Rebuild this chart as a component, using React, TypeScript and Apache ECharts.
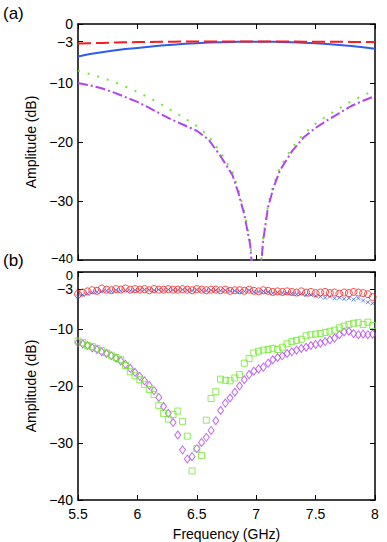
import React, { useEffect, useRef } from "react";
import * as echarts from "echarts";

// ---- Panel (a): theory curves ----
const freqA = [5.5, 5.6, 5.7, 5.8, 5.9, 6.0, 6.1, 6.2, 6.3, 6.4, 6.5, 6.6, 6.7, 6.8, 6.85, 6.9, 6.95, 7.0, 7.06, 7.1, 7.15, 7.2, 7.3, 7.4, 7.5, 7.6, 7.7, 7.8, 7.9, 8.0];
const redA = [-3.3, -3.25, -3.2, -3.15, -3.1, -3.07, -3.04, -3.02, -3.0, -2.98, -2.97, -2.96, -2.95, -2.95, -2.95, -2.95, -2.95, -2.95, -2.95, -2.96, -2.96, -2.97, -2.98, -2.99, -3.0, -3.01, -3.02, -3.03, -3.04, -3.05];
const blueA = [-5.5, -5.1, -4.8, -4.5, -4.25, -4.05, -3.85, -3.65, -3.5, -3.35, -3.25, -3.15, -3.08, -3.03, -3.01, -3.0, -3.0, -3.0, -3.0, -3.01, -3.02, -3.04, -3.1, -3.17, -3.27, -3.4, -3.55, -3.72, -3.93, -4.2];
const greenA = [-7.9, -8.5, -9.1, -9.8, -10.6, -11.5, -12.5, -13.6, -14.8, -16.0, -17.3, -19.0, -21.8, -25.0, -28.0, -31.8, -37, -50, -36, -30.5, -27, -24.3, -21.0, -18.6, -16.9, -15.5, -14.3, -13.1, -12.1, -11.2];
const purpleA = [-10.0, -10.4, -10.9, -11.6, -12.4, -13.2, -14.2, -15.3, -16.3, -17.2, -18.1, -19.6, -22.4, -25.6, -28.6, -32.3, -37.5, -50, -36.5, -31, -27.5, -24.8, -21.6, -19.2, -17.6, -16.3, -15.1, -13.9, -13.0, -12.2];

// ---- Panel (b): measured points ----
const freqB = [5.5, 5.54, 5.58, 5.62, 5.66, 5.7, 5.74, 5.78, 5.82, 5.86, 5.9, 5.94, 5.98, 6.02, 6.06, 6.1, 6.14, 6.18, 6.22, 6.26, 6.3, 6.34, 6.38, 6.42, 6.46, 6.5, 6.54, 6.58, 6.62, 6.66, 6.7, 6.74, 6.78, 6.82, 6.86, 6.9, 6.94, 6.98, 7.02, 7.06, 7.1, 7.14, 7.18, 7.22, 7.26, 7.3, 7.34, 7.38, 7.42, 7.46, 7.5, 7.54, 7.58, 7.62, 7.66, 7.7, 7.74, 7.78, 7.82, 7.86, 7.9, 7.94, 7.98];
const redB = [-3.9, -3.6, -3.4, -3.2, -3.3, -2.9, -3.1, -3.2, -3.0, -3.1, -2.9, -3.1, -3.0, -3.1, -3.0, -3.2, -3.0, -3.1, -3.1, -3.0, -3.1, -3.1, -3.0, -3.1, -3.2, -3.0, -3.1, -3.2, -3.1, -3.1, -3.2, -3.1, -3.3, -3.2, -3.2, -3.3, -3.1, -3.3, -3.4, -3.2, -3.3, -3.5, -3.4, -3.5, -3.4, -3.5, -3.6, -3.4, -3.6, -3.5, -3.7, -3.6, -3.5, -3.7, -3.6, -3.8, -3.6, -3.7, -3.5, -3.6, -3.7, -3.9, -4.4];
const blueB = [-4.3, -4.0, -3.8, -3.6, -3.5, -3.4, -3.3, -3.4, -3.2, -3.3, -3.2, -3.3, -3.2, -3.2, -3.1, -3.2, -3.2, -3.1, -3.2, -3.1, -3.2, -3.2, -3.1, -3.2, -3.3, -3.1, -3.2, -3.3, -3.2, -3.2, -3.3, -3.2, -3.4, -3.3, -3.4, -3.4, -3.2, -3.5, -3.5, -3.4, -3.5, -3.7, -3.6, -3.7, -3.7, -3.8, -3.9, -3.8, -4.0, -4.0, -4.2, -4.3, -4.5, -4.3, -4.6, -4.5, -4.7, -4.6, -4.8, -4.6, -5.0, -5.3, -5.5];
const greenB = [-12.1, -12.4, -12.9, -13.1, -13.4, -13.8, -14.2, -14.6, -15.0, -15.4, -16.4, -17.5, -18.2, -18.9, -19.7, -20.6, -21.5, -23.4, -24.8, -25.8, -25.0, -24.4, -26.2, -28.8, -34.9, -31.0, -32.2, -26.0, -22.2, -21.0, -18.8, -19.0, -19.1, -18.6, -18.0, -16.0, -15.2, -14.2, -13.9, -13.7, -13.6, -13.4, -13.6, -13.2, -12.6, -12.2, -12.0, -11.8, -11.2, -11.0, -10.9, -10.8, -10.6, -10.4, -10.2, -9.8, -9.5, -9.2, -9.0, -8.9, -9.2, -8.8, -9.4];
const purpleB = [-12.4, -12.6, -12.9, -13.3, -13.6, -14.0, -14.3, -14.7, -15.1, -15.6, -16.2, -16.9, -17.6, -18.3, -19.1, -19.9, -20.8, -22.0, -23.6, -24.8, -26.4, -28.6, -31.2, -32.8, -32.4, -31.0, -29.9, -29.0, -27.8, -26.1, -24.3, -23.0, -22.1, -21.1, -20.0, -18.9, -18.0, -17.4, -17.0, -16.7, -16.0, -15.4, -15.0, -14.7, -14.3, -14.0, -13.7, -13.4, -13.2, -12.9, -12.7, -12.5, -12.2, -11.9, -11.6, -11.0, -10.5, -10.4, -10.8, -11.0, -10.9, -11.0, -10.9];

const yTicks = [-40, -30, -20, -10, -3, 0];
const yLabelsTop = [-30, -20, -10, -3, 0];
const yLabelsBottom = [-40, -30, -20, -10, -3];
const xTickLabels = ["5.5", "6", "6.5", "7", "7.5", "8"];

const RED = "#ff1a1a";
const BLUE = "#2f5cf0";
const GREEN = "#6fea2a";
const PURPLE = "#b342f2";
const FONT = "Liberation Sans, Arial, sans-serif";

const pairs = (xs: number[], ys: number[]) => xs.map((x, i) => [x, ys[i]]);
const fmtY = (v: number) => (v < 0 ? "\u2212" + Math.abs(v) : String(v));

export default function App() {
  const ref = useRef<HTMLDivElement>(null);
  useEffect(() => {
    if (!ref.current) return;
    const chart = echarts.init(ref.current, undefined, { renderer: "svg" });
    const axisLine = { show: true, onZero: false, lineStyle: { color: "#000", width: 1.5 } };
    const tick = { show: true, inside: true, length: 5, lineStyle: { color: "#000", width: 1 } };
    const mkX = (grid: number, pos: "bottom" | "top", labels: boolean, name?: string) => ({
      type: "value",
      gridIndex: grid,
      position: pos,
      min: 5.5,
      max: 8,
      interval: 0.5,
      axisLine,
      axisTick: tick,
      splitLine: { show: false },
      axisLabel: {
        show: labels,
        margin: 7,
        color: "#000",
        fontSize: 14,
        fontFamily: FONT,
        formatter: (v: number) => xTickLabels[Math.round((v - 5.5) / 0.5)] ?? String(v),
      },
      name: name,
      nameLocation: "middle",
      nameGap: 27,
      nameTextStyle: { color: "#000", fontSize: 14, fontFamily: FONT },
    });
    const mkY = (grid: number, pos: "left" | "right", labelValues: number[] | null, name?: string) => ({
      type: "value",
      gridIndex: grid,
      position: pos,
      min: -40,
      max: 0,
      axisLine,
      axisTick: { ...tick, customValues: yTicks },
      splitLine: { show: false },
      axisLabel: {
        show: !!labelValues,
        customValues: labelValues || yTicks,
        margin: 5,
        color: "#000",
        fontSize: 14,
        fontFamily: FONT,
        formatter: fmtY,
      },
      name: name,
      nameLocation: "middle",
      nameGap: 37,
      nameTextStyle: { color: "#000", fontSize: 14, fontFamily: FONT },
    });
    const scatterBase = (name: string, ys: number[], symbol: string, size: number | number[], color: string) => ({
      type: "scatter",
      name,
      xAxisIndex: 2,
      yAxisIndex: 2,
      data: pairs(freqB, ys),
      symbol,
      symbolSize: size,
      itemStyle: { color: "transparent", borderColor: color, borderWidth: 1 },
    });
    const edgeLabel = (text: string, y: number) => ({
      type: "text",
      x: 73,
      y,
      style: { text, align: "right", verticalAlign: "middle", fontSize: 13, fontFamily: FONT, fill: "#000" },
    });
    chart.setOption({
      animation: false,
      backgroundColor: "#fff",
      grid: [
        { left: 78, right: 12, top: 24, height: 236 },
        { left: 78, right: 12, top: 272, height: 229 },
      ],
      xAxis: [
        mkX(0, "bottom", false),
        mkX(0, "top", false),
        mkX(1, "bottom", true, "Frequency (GHz)"),
        mkX(1, "top", false),
      ],
      yAxis: [
        mkY(0, "left", yLabelsTop, "Amplitude (dB)"),
        mkY(0, "right", null),
        mkY(1, "left", yLabelsBottom, "Amplitude (dB)"),
        mkY(1, "right", null),
      ],
      graphic: [
        { type: "text", left: 3, top: 5, style: { text: "(a)", fontSize: 17, fontFamily: FONT, fill: "#000" } },
        { type: "text", left: 3, top: 252, style: { text: "(b)", fontSize: 17, fontFamily: FONT, fill: "#000" } },
        edgeLabel("\u221240", 258),
        edgeLabel("0", 275),
      ],
      series: [
        { type: "line", name: "T1", xAxisIndex: 0, yAxisIndex: 0, data: pairs(freqA, blueA), showSymbol: false, lineStyle: { color: BLUE, width: 2, type: "solid" } },
        { type: "line", name: "T2", xAxisIndex: 0, yAxisIndex: 0, data: pairs(freqA, redA), showSymbol: false, lineStyle: { color: RED, width: 2, type: [13, 5] } },
        { type: "line", name: "T3", xAxisIndex: 0, yAxisIndex: 0, data: pairs(freqA, greenA), showSymbol: false, lineStyle: { color: GREEN, width: 2, type: [2, 8] } },
        { type: "line", name: "T4", xAxisIndex: 0, yAxisIndex: 0, data: pairs(freqA, purpleA), showSymbol: false, lineStyle: { color: PURPLE, width: 2, type: [10, 3, 2, 3] } },
        scatterBase("M1", blueB, "path://M0,0L10,10M10,0L0,10", 4, BLUE),
        scatterBase("M2", redB, "circle", 7, RED),
        scatterBase("M4", purpleB, "diamond", [6, 8], PURPLE),
        scatterBase("M3", greenB, "rect", 6, GREEN),
      ],
    });
    return () => chart.dispose();
  }, []);
  return <div ref={ref} style={{ width: 387, height: 542, position: "absolute", left: 0, top: 0 }} />;
}
